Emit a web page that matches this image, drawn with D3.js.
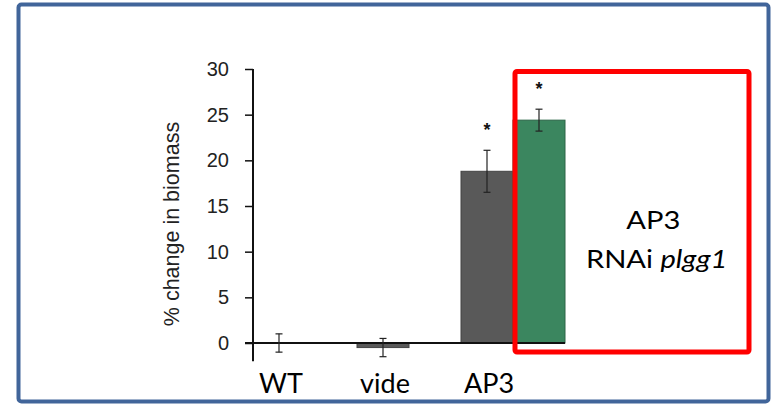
<!DOCTYPE html>
<html>
<head>
<meta charset="utf-8">
<script src="https://cdn.jsdelivr.net/npm/d3@7"></script>
<style>
  body { margin: 0; background: #fff; }
  svg { display: block; }
</style>
</head>
<body>
<div id="chart"></div>
<script>
// slots of the x band scale; the gaps keep the spacing of the original figure
const slots = ['WT', 'gap1', 'vide', 'gap2', 'AP3', 'AP3 RNAi plgg1'];
const barNames = ['WT', 'vide', 'AP3', 'AP3 RNAi plgg1'];
const barValues = [0, -0.5, 18.8, 24.4];
const barErrors = [1.0, 1.0, 2.3, 1.2];
const barStars = [false, false, true, true];
const xLabels = ['WT', 'vide', 'AP3'];
const yTicks = [0, 5, 10, 15, 20, 25, 30];
const yLabel = '% change in biomass';
const boxLine1 = 'AP3';
const boxLine2 = ['RNAi ', 'plgg1'];

const width = 772, height = 405;

const svg = d3.select('#chart')
    .append('svg')
    .attr('width', width)
    .attr('height', height);

// outer frame
svg.append('rect')
    .attr('x', 18.5).attr('y', 4.5)
    .attr('width', 750).attr('height', 397)
    .attr('rx', 3)
    .attr('fill', '#fff')
    .attr('stroke', '#41659a')
    .attr('stroke-width', 4);

const x = d3.scaleBand()
    .domain(slots)
    .range([253, 565])
    .padding(0);

const y = d3.scaleLinear()
    .domain([0, 30])
    .range([343, 69]);

const color = d3.scaleOrdinal()
    .domain(barNames)
    .range(['#595959', '#595959', '#595959', '#3b865f']);

const bars = barNames.map((name, i) => ({
    name, value: barValues[i], err: barErrors[i], star: barStars[i]
}));

// y axis
const yAxis = svg.append('g')
    .attr('transform', 'translate(253,0)')
    .call(d3.axisLeft(y).tickValues(yTicks).tickSize(8).tickPadding(16));
yAxis.select('.domain').remove();
yAxis.selectAll('line').attr('stroke', '#111').attr('stroke-width', 1.5);
yAxis.selectAll('text')
    .attr('fill', '#222')
    .style('font-family', '"Liberation Sans", Arial, sans-serif')
    .style('font-size', '20px');

svg.append('line')
    .attr('x1', 253).attr('x2', 253)
    .attr('y1', y(30)).attr('y2', y(-2))
    .attr('stroke', '#111')
    .attr('stroke-width', 2);

svg.append('text')
    .attr('transform', 'translate(179,224) rotate(-90)')
    .attr('text-anchor', 'middle')
    .attr('fill', '#222')
    .style('font-family', '"Liberation Sans", Arial, sans-serif')
    .style('font-size', '21.5px')
    .text(yLabel);

// bars
svg.selectAll('.bar')
    .data(bars)
    .enter()
    .append('rect')
    .attr('class', 'bar')
    .attr('x', d => x(d.name))
    .attr('width', x.bandwidth())
    .attr('y', d => y(Math.max(0, d.value)))
    .attr('height', d => Math.abs(y(d.value) - y(0)))
    .attr('fill', d => color(d.name))
    .attr('stroke', d => d3.color(color(d.name)).darker(0.8))
    .attr('stroke-width', 1);

// zero line
svg.append('line')
    .attr('x1', 245).attr('x2', x.range()[1])
    .attr('y1', y(0)).attr('y2', y(0))
    .attr('stroke', '#111')
    .attr('stroke-width', 2);

// error bars
const errs = svg.selectAll('.err')
    .data(bars)
    .enter()
    .append('g')
    .attr('class', 'err')
    .attr('transform', d => `translate(${x(d.name) + x.bandwidth() / 2},0)`)
    .attr('stroke', '#222')
    .attr('stroke-width', 1.2);
errs.append('line')
    .attr('y1', d => y(d.value + d.err))
    .attr('y2', d => y(d.value - d.err));
errs.append('line')
    .attr('x1', -3.5).attr('x2', 3.5)
    .attr('y1', d => y(d.value + d.err))
    .attr('y2', d => y(d.value + d.err));
errs.append('line')
    .attr('x1', -3.5).attr('x2', 3.5)
    .attr('y1', d => y(d.value - d.err))
    .attr('y2', d => y(d.value - d.err));

// significance stars
svg.selectAll('.star')
    .data(bars.filter(d => d.star))
    .enter()
    .append('text')
    .attr('class', 'star')
    .attr('x', d => x(d.name) + x.bandwidth() / 2)
    .attr('y', d => y(d.value + d.err) - 14)
    .attr('text-anchor', 'middle')
    .attr('fill', '#111')
    .style('font-family', '"Liberation Sans", Arial, sans-serif')
    .style('font-size', '18px')
    .style('font-weight', 'bold')
    .text('*');

// x labels
svg.selectAll('.xlabel')
    .data(xLabels)
    .enter()
    .append('text')
    .attr('class', 'xlabel')
    .attr('x', d => x(d) + x.bandwidth() / 2 + 2)
    .attr('y', 393)
    .attr('text-anchor', 'middle')
    .attr('fill', '#000')
    .style('font-family', 'Lato, "Open Sans", sans-serif')
    .style('font-size', '27px')
    .text(d => d);

// red highlight box
svg.append('rect')
    .attr('x', 515).attr('y', 71.5)
    .attr('width', 234).attr('height', 280.5)
    .attr('rx', 2)
    .attr('fill', 'none')
    .attr('stroke', '#ff0000')
    .attr('stroke-width', 5);

// box text is wide in the source image, so stretch it horizontally
const boxText = svg.append('g')
    .attr('transform', 'translate(655,0) scale(1.12,1)')
    .attr('text-anchor', 'middle')
    .attr('fill', '#000')
    .style('font-family', 'Lato, "Open Sans", sans-serif')
    .style('font-size', '26px');
boxText.append('text')
    .attr('x', -1.5).attr('y', 229)
    .text(boxLine1);
const line2 = boxText.append('text')
    .attr('x', 1.5).attr('y', 268);
line2.append('tspan').text(boxLine2[0]);
line2.append('tspan').style('font-style', 'italic').text(boxLine2[1]);
</script>
</body>
</html>
